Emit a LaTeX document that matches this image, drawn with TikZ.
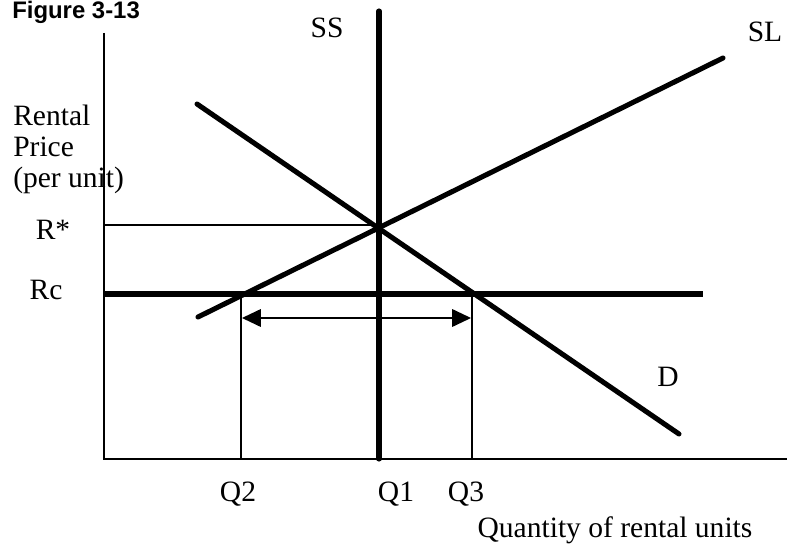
\documentclass[tikz,border=0pt]{standalone}
\usepackage{fontspec}
\setmainfont{Liberation Serif}
\newfontfamily\titlefont{Liberation Sans}
\usetikzlibrary{arrows.meta,positioning,calc}

\begin{document}
\begin{tikzpicture}[
    x=0.025cm, y=-0.025cm,
    lbl/.style={font=\fontsize{21}{22}\selectfont, inner sep=0pt},
    curve/.style={line width=3.6pt, line cap=round},
    guide/.style={line width=0.9pt},
    axis/.style={line width=1.3pt},
    arr/.style={{Triangle[length=4.7mm,width=4.4mm]}-{Triangle[length=4.7mm,width=4.4mm]}, line width=1pt}
]
\useasboundingbox (0,0) rectangle (787,544);

% title
\node[font=\titlefont\bfseries\fontsize{17}{17}\selectfont, inner sep=0pt, anchor=north west] (title) at (12,1) {Figure 3-13};

% axes
\coordinate (origin) at (104,459);
\coordinate (ytop) at (104,33);
\coordinate (xend) at (787,459);
\draw[axis] (ytop) -- (origin) -- (xend);

% supply and demand
\coordinate (ss top) at (379,11);
\coordinate (ss bot) at (379,459);
\coordinate (sl start) at (198,317);
\coordinate (sl end) at (723,58);
\coordinate (d start) at (197,104);
\coordinate (d end) at (679,434);
\draw[curve] (ss top) -- (ss bot);
\draw[curve] (sl start) -- (sl end);
\draw[curve] (d start) -- (d end);

% prices
\coordinate (rstar left) at (104,225);
\coordinate (eq) at (379,225);
\draw[guide] (rstar left) -- (eq);
\coordinate (rc left) at (104,294);
\coordinate (rc right) at (703,294);
\draw[curve, line cap=butt] (rc left) -- (rc right);

% quantities at the ceiling
\coordinate (q2 top) at (241,294);
\coordinate (q2 bot) at (241,459);
\coordinate (q3 top) at (472,294);
\coordinate (q3 bot) at (472,459);
\draw[guide] (q2 top) -- (q2 bot);
\draw[guide] (q3 top) -- (q3 bot);
\coordinate (gap left) at (242,318);
\coordinate (gap right) at (471,318);
\draw[arr] (gap left) -- (gap right);

% labels
\node[lbl, anchor=north west, align=left] (ylabel) at (13,105) {Rental\\Price\\(per unit)};
\node[lbl, anchor=base] (rstar) at (53,240) {R*};
\node[lbl, anchor=base] (rc) at (46,299) {Rc};
\node[lbl] (ss) at (327,28) {SS};
\node[lbl] (sl) at (765,32) {SL};
\node[lbl] (d) at (668,377) {D};
\node[lbl, anchor=base] (q2) at (238,501) {Q2};
\node[lbl, anchor=base] (q1) at (396,501) {Q1};
\node[lbl, anchor=base] (q3) at (466,501) {Q3};
\node[lbl, anchor=base] (xlabel) at (615,537) {Quantity of rental units};
\end{tikzpicture}
\end{document}
